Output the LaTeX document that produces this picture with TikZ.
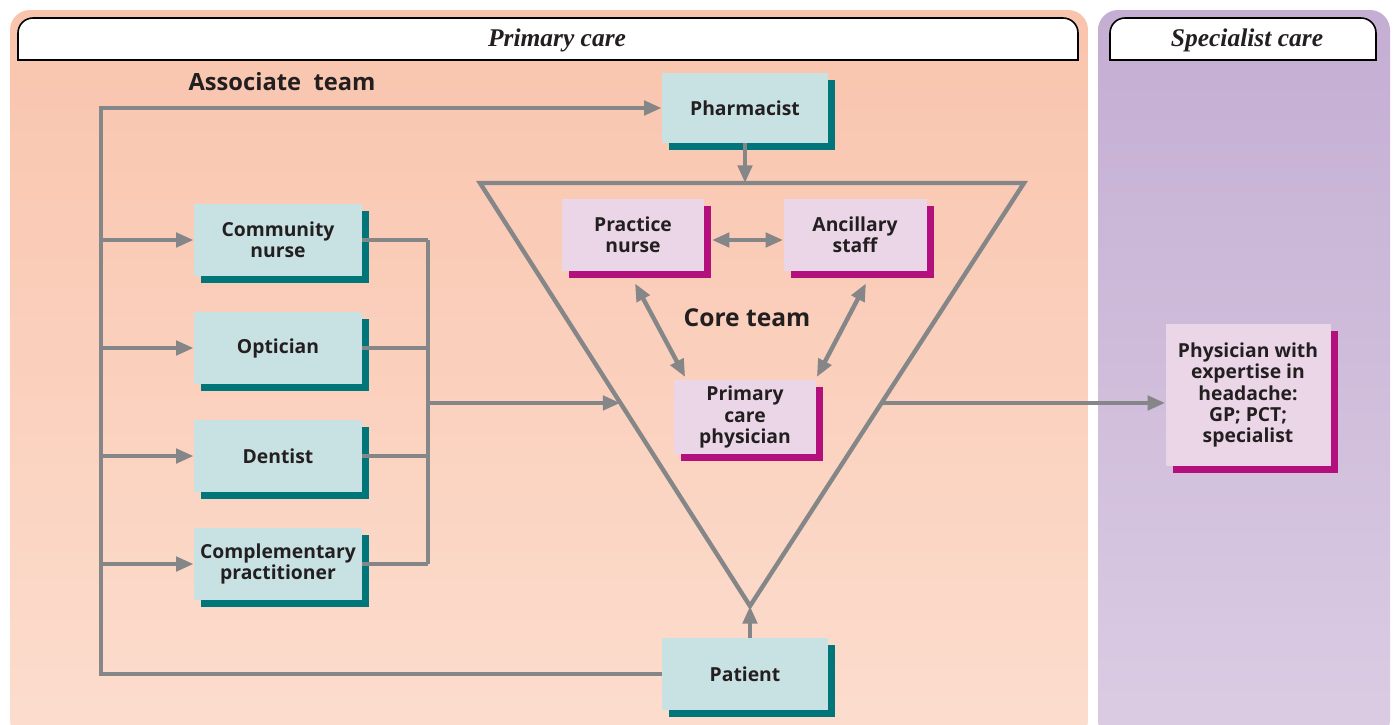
\documentclass[tikz,border=0pt]{standalone}
\usepackage{fontspec}
\setmainfont{Liberation Serif}
\newfontfamily\boxfont{Open Sans}
\usetikzlibrary{arrows.meta,shadows,calc}
\definecolor{peachtop}{HTML}{F9C4AD}
\definecolor{peachbot}{HTML}{FCDDCE}
\definecolor{lilactop}{HTML}{C4AED3}
\definecolor{lilacbot}{HTML}{DBCCE3}
\definecolor{tealfill}{HTML}{C8E1E3}
\definecolor{tealshade}{HTML}{00767A}
\definecolor{pinkfill}{HTML}{EBD6E8}
\definecolor{pinkshade}{HTML}{B3107E}
\definecolor{linegray}{HTML}{858688}
\definecolor{textdark}{HTML}{231F20}
\begin{document}
\begin{tikzpicture}
	[x=0.02cm,y=-0.02cm,>={Triangle[length=10pt,width=8pt]},
	 link/.style={draw=linegray,line width=2.5pt},
	 hdr/.style={fill=white,draw=black,line width=0.9pt},
	 hdrtext/.style={font=\bfseries\itshape\fontsize{14.5}{17}\selectfont,text=textdark},
	 title/.style={font=\boxfont\bfseries\fontsize{13.5}{16}\selectfont,text=textdark},
	 assoc/.style={fill=tealfill,minimum width=3.36cm,minimum height=1.44cm,align=center,
	   font=\boxfont\bfseries\fontsize{11}{12}\selectfont,text=textdark,
	   drop shadow={shadow xshift=0.14cm,shadow yshift=-0.14cm,fill=tealshade,opacity=1}},
	 core/.style={fill=pinkfill,minimum width=2.86cm,minimum height=1.44cm,align=center,
	   font=\boxfont\bfseries\fontsize{11}{12}\selectfont,text=textdark,
	   drop shadow={shadow xshift=0.14cm,shadow yshift=-0.14cm,fill=pinkshade,opacity=1}}]
    \useasboundingbox (0,0) rectangle (1395,724);
    % panels
    \path[top color=peachtop,bottom color=peachbot,rounded corners=0.4cm] (10,10) rectangle (1088,740);
    \path[top color=lilactop,bottom color=lilacbot,rounded corners=0.4cm] (1098,10) rectangle (1390,740);
    \draw[hdr] (18,60) -- (18,33) arc[start angle=180,end angle=90,radius=0.3cm]
      -- (1063,18) arc[start angle=90,end angle=0,radius=0.3cm] -- (1078,60) -- cycle;
    \draw[hdr] (1110,60) -- (1110,33) arc[start angle=180,end angle=90,radius=0.3cm]
      -- (1361,18) arc[start angle=90,end angle=0,radius=0.3cm] -- (1376,60) -- cycle;
    \node[hdrtext] (pcare) at (557,40) {Primary care};
    \node[hdrtext] (scare) at (1247,40) {Specialist care};
    \node[title] (assocteam) at (282,82) {Associate~ team};
    \node[title,font=\boxfont\bfseries\fontsize{14}{16}\selectfont] (coreteam) at (747,318) {Core team};
    % triangle
    \coordinate (tl) at (480,183);
    \coordinate (tr) at (1024,183);
    \coordinate (bot) at (750,606);
    \coordinate (inL) at ($(tl)!0.52!(bot)$);
    \coordinate (inR) at ($(tr)!0.52!(bot)$);
    \draw[link] (tl) -- (tr) -- (bot) -- cycle;
    % associate team
    \node[assoc,minimum width=3.32cm,minimum height=1.4cm] (pha) at (745,108) {Pharmacist};
    \node[assoc] (cn) at (278,240) {Community\\nurse};
    \node[assoc] (opt) at (278,348) {Optician};
    \node[assoc] (den) at (278,456) {Dentist};
    \node[assoc] (comp) at (278,564) {Complementary\\practitioner};
    \node[assoc,minimum width=3.32cm] (pat) at (745,674) {Patient};
    % core team
    \node[core] (pn) at (633,235) {Practice\\nurse};
    \node[core] (anc) at (855,235) {Ancillary\\staff};
    \node[core] (pcp) at (745,417) {Primary\\care\\physician};
    \node[core,minimum width=3.3cm,minimum height=2.84cm] (phy) at (1248,395)
      {Physician with\\expertise in\\headache:\\GP; PCT;\\specialist};
    % connectors
    \coordinate (spine) at (101,0);
    \coordinate (bus) at (428,0);
    \draw[link,->] (pat.west) -| (spine |- pha.west) -- (pha.west);
    \foreach \n in {cn,opt,den,comp}
      \draw[link,->] (spine |- \n.west) -- (\n.west);
    \foreach \n in {cn,opt,den,comp}
      \draw[link] (\n.east) -- (bus |- \n.east);
    \draw[link] (bus |- cn.east) -- (bus |- comp.east);
    \draw[link,->] (bus |- inL) -- (inL);
    \draw[link,->] (pha.south) -- (pha.south |- tl);
    \draw[link,->] (bot |- pat.north) -- (bot);
    \draw[link,<->] ($(pn.east)+(7,5)$) -- ($(anc.west)+(0,5)$);
    \draw[link,<->] ($(pn.south)+(2,12)$) -- ($(pcp.north west)+(12,-3)$);
    \draw[link,<->] ($(anc.south)+(11,12)$) -- ($(pcp.north east)+(0,-3)$);
    \draw[link,->] (inR) -- (inR -| phy.west);
\end{tikzpicture}
\end{document}
